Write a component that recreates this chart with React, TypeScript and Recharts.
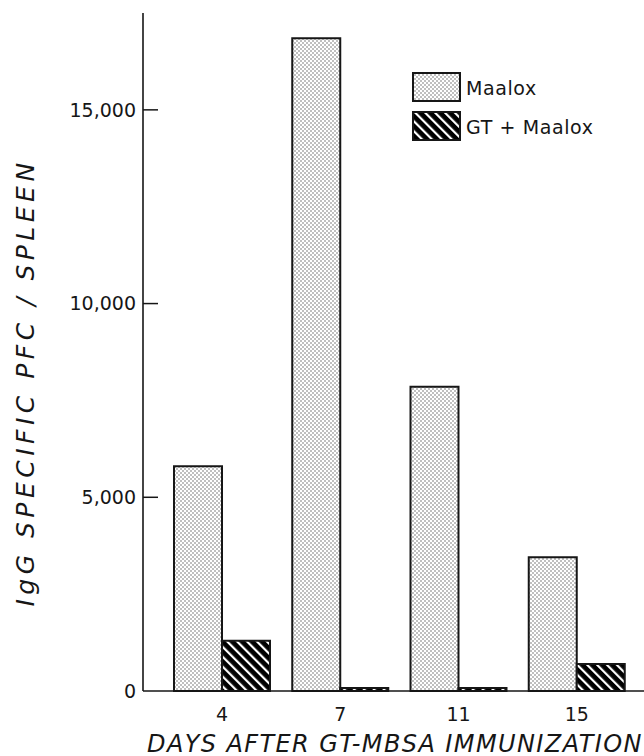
import React from 'react';
import { BarChart, Bar, XAxis, YAxis, Legend, Label } from 'recharts';

const days = ['4', '7', '11', '15'];
const maaloxValues = [5800, 16850, 7850, 3450];
const gtMaaloxValues = [1300, 80, 80, 700];
const yTicks = [0, 5000, 10000, 15000];
const yTickLabels = ['0', '5,000', '10,000', '15,000'];
const seriesNames = ['Maalox', 'GT + Maalox'];
const xTitle = 'DAYS AFTER GT-MBSA IMMUNIZATION';
const yTitle = 'IgG SPECIFIC PFC / SPLEEN';

const data = days.map((d, i) => ({ day: d, maalox: maaloxValues[i], gt: gtMaaloxValues[i] }));

const FONT = '"DejaVu Sans", sans-serif';
const INK = '#161616';

const Patterns = ({ prefix }: { prefix: string }) => (
  <defs>
    <pattern id={`${prefix}dots`} patternUnits="userSpaceOnUse" width={4} height={4}>
      <rect width={4} height={4} fill="#ffffff" />
      <circle cx={1} cy={1} r={0.75} fill="#606060" />
      <circle cx={3} cy={3} r={0.75} fill="#606060" />
    </pattern>
    <pattern id={`${prefix}hatch`} patternUnits="userSpaceOnUse" width={7} height={7} patternTransform="rotate(-45)">
      <rect width={7} height={7} fill="#000000" />
      <rect x={0} y={0} width={2.2} height={7} fill="#ffffff" />
    </pattern>
  </defs>
);

const YTick = (props: any) => {
  const { x, y, payload } = props;
  const idx = yTicks.indexOf(payload.value);
  return (
    <g>
      {payload.value !== 0 && (
        <line x1={x + 7} x2={x + 22} y1={y} y2={y} stroke={INK} strokeWidth={1.5} />
      )}
      <text x={x} y={y} dy="0.36em" textAnchor="end" fontFamily={FONT} fontSize={19} fill={INK}>
        {yTickLabels[idx]}
      </text>
    </g>
  );
};

const YTitle = (props: any) => {
  const vb = props.viewBox;
  const cx = vb.x + 26;
  const cy = vb.y + vb.height * 0.545;
  return (
    <text
      x={cx}
      y={cy}
      transform={`rotate(-90, ${cx}, ${cy})`}
      textAnchor="middle"
      dominantBaseline="central"
      fontFamily={FONT}
      fontStyle="italic"
      fontSize={25}
      letterSpacing={4.5}
      fill={INK}
    >
      {yTitle}
    </text>
  );
};

const LegendContent = (props: any) => {
  const items = [...(props.payload || [])].sort(
    (a: any, b: any) => seriesNames.indexOf(a.value) - seriesNames.indexOf(b.value)
  );
  return (
    <div>
      {items.map((it: any, i: number) => (
        <div key={i} style={{ display: 'flex', alignItems: 'center', height: 29, marginBottom: i === 0 ? 10 : 0 }}>
          <svg width={50} height={31} style={{ display: 'block' }}>
            <Patterns prefix={`lg${i}`} />
            <rect
              x={1}
              y={1}
              width={47}
              height={28}
              fill={it.dataKey === 'maalox' ? `url(#lg${i}dots)` : `url(#lg${i}hatch)`}
              stroke={INK}
              strokeWidth={2}
            />
          </svg>
          <span style={{ fontFamily: FONT, fontSize: 19, color: INK, marginLeft: 4, letterSpacing: 0.6 }}>{it.value}</span>
        </div>
      ))}
    </div>
  );
};

export default function App() {
  return (
    <div style={{ position: 'absolute', left: 0, top: 0, background: '#fff' }}>
      <BarChart
        width={644}
        height={756}
        data={data}
        margin={{ top: 13, right: 0, bottom: 0, left: 0 }}
        barCategoryGap={11}
        barGap={0}
      >
        <Patterns prefix="c" />
        <XAxis
          dataKey="day"
          height={65}
          padding={{ left: 20, right: 8 }}
          tickLine={false}
          tickSize={0}
          tickMargin={17}
          axisLine={{ stroke: INK, strokeWidth: 1.6 }}
          tick={{ fontFamily: FONT, fontSize: 19, fill: INK }}
          interval={0}
        >
          <Label
            value={xTitle}
            position="insideBottomLeft"
            offset={4}
            style={{ fontFamily: FONT, fontStyle: 'italic', fontSize: 24, letterSpacing: 1.4, fill: INK }}
          />
        </XAxis>
        <YAxis
          type="number"
          domain={[0, 17500]}
          ticks={yTicks}
          width={143}
          tickLine={false}
          tickSize={0}
          tickMargin={7}
          axisLine={{ stroke: INK, strokeWidth: 1.6 }}
          tick={<YTick />}
          interval={0}
        >
          <Label content={<YTitle />} />
        </YAxis>
        <Legend
          layout="vertical"
          align="center"
          verticalAlign="middle"
          content={<LegendContent />}
          wrapperStyle={{ position: 'absolute', left: 412, top: 73, width: 'auto', height: 'auto' }}
        />
        <Bar dataKey="maalox" name={seriesNames[0]} fill="url(#cdots)" stroke={INK} strokeWidth={2} isAnimationActive={false} />
        <Bar dataKey="gt" name={seriesNames[1]} fill="url(#chatch)" stroke={INK} strokeWidth={2} isAnimationActive={false} />
      </BarChart>
    </div>
  );
}
